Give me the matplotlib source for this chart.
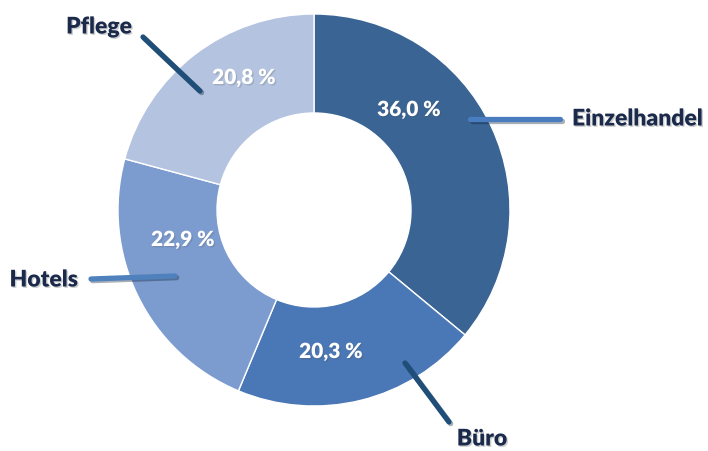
import matplotlib.pyplot as plt
import matplotlib.patheffects as pe

# Data
categories = ["Einzelhandel", "Büro", "Hotels", "Pflege"]
shares = [36.0, 20.3, 22.9, 20.8]
pct_labels = ["36,0 %", "20,3 %", "22,9 %", "20,8 %"]

# Styling
colors = ["#3A6494", "#4A77B5", "#7C9CD0", "#B3C3E0"]
line_colors = ["#4A7DBF", "#1F4E79", "#4F81BD", "#1F4E79"]
text_color = "#1B2A4A"
R = 196  # outer radius in pixels

# layout (pixels relative to pie centre, y up)
pct_pos = [(95, 100), (17, -142), (-131, -30), (-70, 132)]
leader = [((156, 91), (246, 91)), ((91, -153), (135, -212)),
          ((-139, -66), (-223, -69)), ((-114, 119), (-171, 173))]
name_pos = [((258, 91), "left"), ((168, -229), "center"),
            ((-236, -70), "right"), ((-215, 183), "center")]

plt.rcParams['font.family'] = ['Lato', 'DejaVu Sans']

fig = plt.figure(figsize=(7.08, 4.51), dpi=100)
ax = fig.add_axes([0, 0, 1, 1])
ax.axis('off')

ax.pie(shares, colors=colors, radius=R, startangle=90, counterclock=False,
       wedgeprops=dict(width=0.505 * R, edgecolor='white', linewidth=1))
ax.set_aspect('equal')
ax.set_xlim(-314, 708 - 314)
ax.set_ylim(-(451 - 210), 210)

shadow = [pe.SimpleLineShadow(offset=(1.2, -1.2), shadow_color='#0a1a30', alpha=0.35),
          pe.Normal()]
text_shadow = [pe.SimplePatchShadow(offset=(1, -1), alpha=0.2), pe.Normal()]

for i, cat in enumerate(categories):
    (x0, y0), (x1, y1) = leader[i]
    ax.plot([x0, x1], [y0, y1], color=line_colors[i], lw=3.8,
            solid_capstyle='round', path_effects=shadow, zorder=5)
    (tx, ty), ha = name_pos[i]
    ax.text(tx, ty, cat, ha=ha, va='center', fontsize=16.5, fontweight='heavy',
            color=text_color, path_effects=text_shadow, zorder=6)
    px, py = pct_pos[i]
    ax.text(px, py, pct_labels[i], ha='center', va='center', fontsize=15,
            fontweight='heavy', color='white', path_effects=text_shadow, zorder=6)

fig.savefig("out.png", dpi=100)
